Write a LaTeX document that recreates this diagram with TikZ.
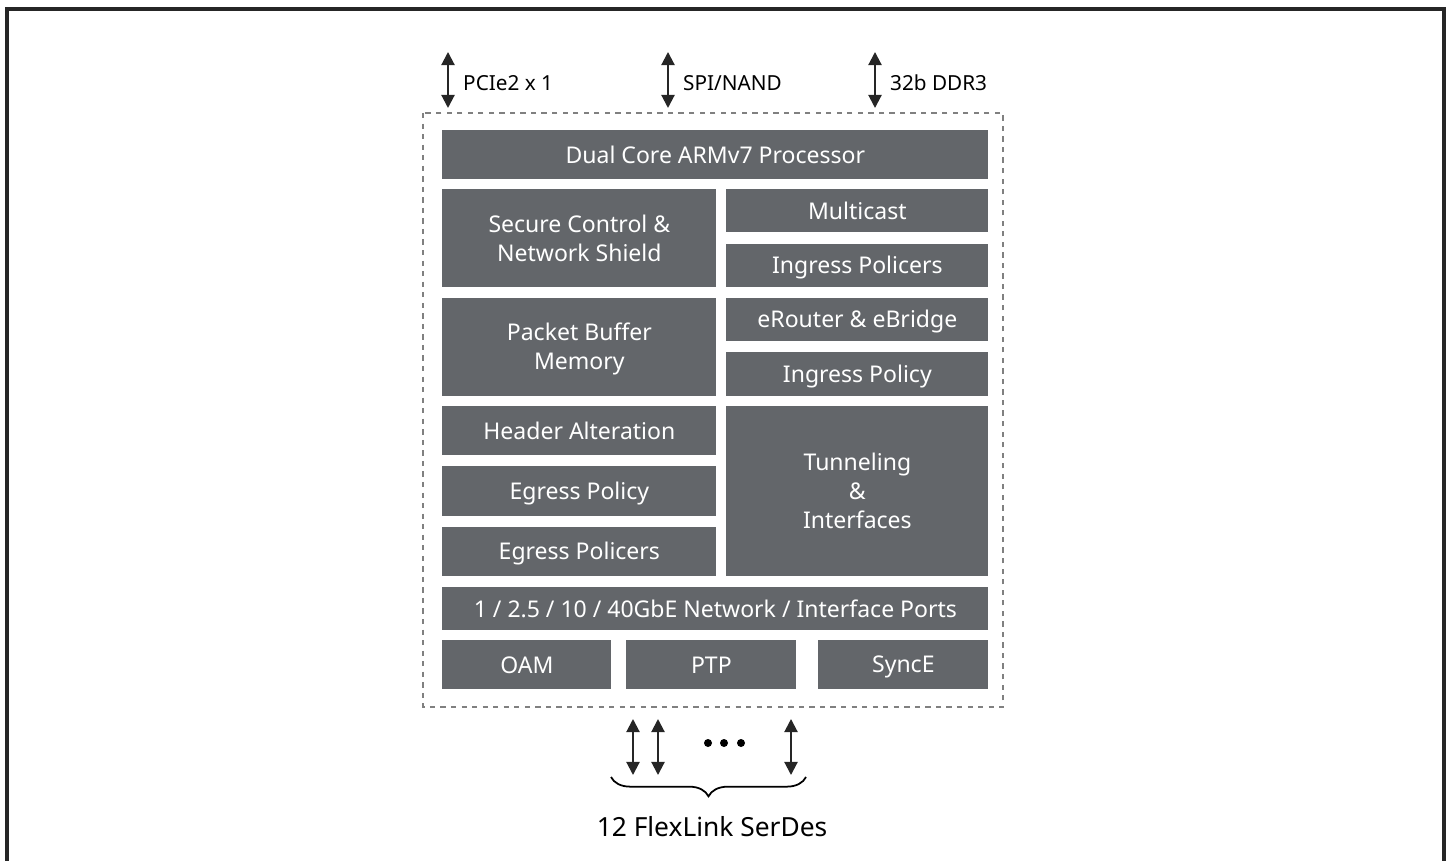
\documentclass[tikz,border=0pt]{standalone}
\usepackage{fontspec}
\setmainfont{Noto Sans}
\usetikzlibrary{positioning,arrows.meta,calc}
\usetikzlibrary{decorations.pathreplacing}
\definecolor{blockgray}{HTML}{63666A}
\tikzset{
  block/.style={draw=none, fill=blockgray, text=white, font=\fontsize{13.1}{16.5}\selectfont,
    align=center, inner sep=0pt, anchor=north west},
  link/.style={line width=1.2pt, draw=black!85,
    {Triangle[length=7.5pt,width=7.5pt]}-{Triangle[length=7.5pt,width=7.5pt]}},
  lbl/.style={font=\fontsize{11.8}{14}\selectfont, anchor=west}
}
\newcommand{\blkstrut}{\rule[-2.8pt]{0pt}{15pt}}
\newcommand{\blk}[6]{% name, x0, y0, x1, y1, text
  \node[block, minimum width={(#4-#2)*0.02cm}, minimum height={(#5-#3)*0.02cm}] (#1) at (#2,#3) {\blkstrut#6\blkstrut};}

\begin{document}
\begin{tikzpicture}[x=0.02cm, y=-0.02cm]
    \useasboundingbox (0,0) rectangle (1449,861);
    % outer frame
    \draw[line width=2pt, draw=black!85] (7,861) -- (7,9) -- (1444,9) -- (1444,861);
    % chip outline
    \draw[dashed, gray, line width=0.7pt] (423,113) rectangle (1003,707);
    %
    \blk{cpu}{442}{130}{988}{179}{Dual Core ARMv7 Processor}
    \blk{secure}{442}{189}{716}{287}{Secure Control \&\\Network Shield}
    \blk{mcast}{726}{189}{988}{232}{Multicast}
    \blk{ipolicers}{726}{244}{988}{287}{Ingress Policers}
    \blk{buffer}{442}{298}{716}{396}{Packet Buffer\\Memory}
    \blk{erouter}{726}{298}{988}{341}{eRouter \& eBridge}
    \blk{ipolicy}{726}{352}{988}{396}{Ingress Policy}
    \blk{header}{442}{406}{716}{455}{Header Alteration}
    \blk{epolicy}{442}{466}{716}{516}{Egress Policy}
    \blk{epolicers}{442}{527}{716}{576}{Egress Policers}
    \blk{tunnel}{726}{406}{988}{576}{Tunneling\\\&\\Interfaces}
    \blk{ports}{442}{587}{988}{630}{1 / 2.5 / 10 / 40GbE Network / Interface Ports}
    \blk{oam}{442}{640}{611}{689}{OAM}
    \blk{ptp}{626}{640}{796}{689}{PTP}
    \blk{synce}{818}{640}{988}{689}{SyncE}
    %
    % external interfaces
    \foreach \name/\x/\txt in {pcie/448/{PCIe2 x 1}, spi/668/{SPI/NAND}, ddr/875/{32b DDR3}}{
      \node[coordinate] (\name T) at (\x,52) {};
      \node[coordinate] (\name B) at (\x,108) {};
      \draw[link] (\name T) -- (\name B);
      \node[lbl] (\name L) at (\x+9,83) {\txt};
    }
    % serdes
    \foreach \name/\x in {sA/633, sB/658, sC/791}{
      \node[coordinate] (\name T) at (\x,719) {};
      \node[coordinate] (\name B) at (\x,775) {};
      \draw[link] (\name T) -- (\name B);
    }
    \foreach \x in {708,724,741}
      \fill[black] (\x,743) circle (4);
    \node[coordinate] (braceL) at (611,777) {};
    \node[coordinate] (braceR) at (806,777) {};
    \draw[line width=1pt, decorate, decoration={brace, mirror, amplitude=11pt}] (braceL) -- (braceR);
    \node[font=\fontsize{15}{18}\selectfont] (serdes) at (712,827) {12 FlexLink SerDes};
\end{tikzpicture}
\end{document}
